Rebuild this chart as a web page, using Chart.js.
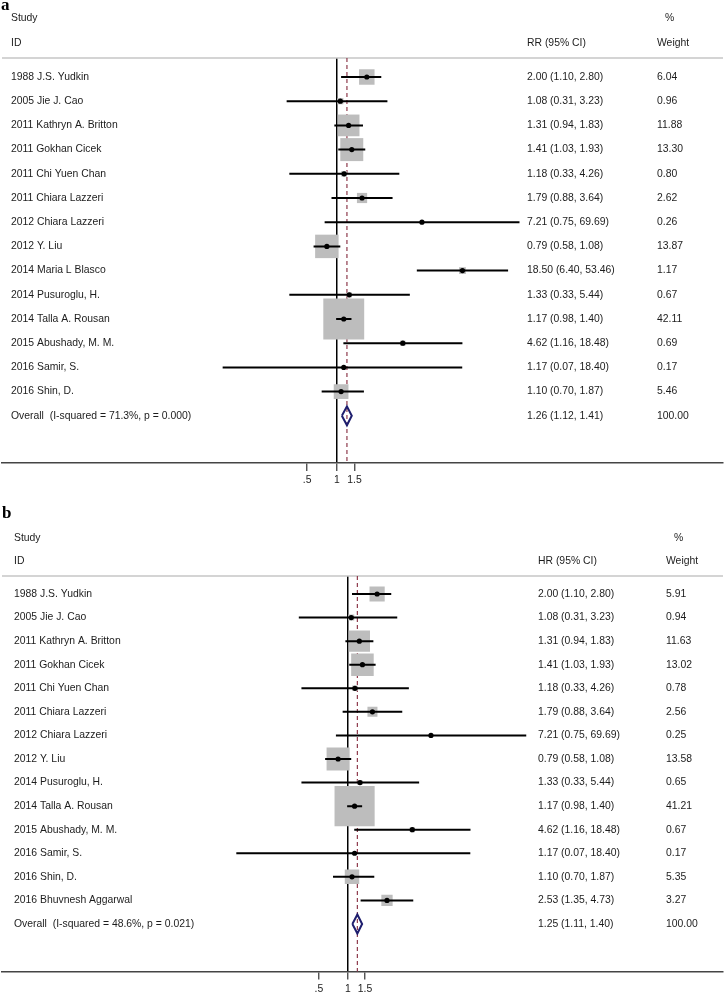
<!DOCTYPE html>
<html><head><meta charset="utf-8">
<script src="https://cdn.jsdelivr.net/npm/chart.js@4.4.1/dist/chart.umd.min.js"></script>
<style>
html,body{margin:0;padding:0;background:#fff;}
#wrap{position:relative;width:725px;height:992px;overflow:hidden;background:#fff;}
canvas{position:absolute;left:0;display:block;}
</style></head><body>
<div id="wrap">
<canvas id="ca" style="top:0px"></canvas>
<canvas id="cb" style="top:490px"></canvas>
</div>
<script>
// ---------- Panel a (RR) ----------
const studiesA = ["1988 J.S. Yudkin","2005 Jie J. Cao","2011 Kathryn A. Britton","2011 Gokhan Cicek","2011 Chi Yuen Chan","2011 Chiara Lazzeri","2012 Chiara Lazzeri","2012 Y. Liu","2014 Maria L Blasco","2014 Pusuroglu, H.","2014 Talla A. Rousan","2015 Abushady, M. M.","2016 Samir, S.","2016 Shin, D."];
const estA = [2.00,1.08,1.31,1.41,1.18,1.79,7.21,0.79,18.50,1.33,1.17,4.62,1.17,1.10];
const loA  = [1.10,0.31,0.94,1.03,0.33,0.88,0.75,0.58,6.40,0.33,0.98,1.16,0.07,0.70];
const hiA  = [2.80,3.23,1.83,1.93,4.26,3.64,69.69,1.08,53.46,5.44,1.40,18.48,18.40,1.87];
const weightA = [6.04,0.96,11.88,13.30,0.80,2.62,0.26,13.87,1.17,0.67,42.11,0.69,0.17,5.46];
const overallA = [1.26,1.12,1.41];
const overallWeightA = 100.00;
const overallLabelA = "Overall  (I-squared = 71.3%, p = 0.000)";
const effectHeaderA = "RR (95% CI)";

// ---------- Panel b (HR) ----------
const studiesB = ["1988 J.S. Yudkin","2005 Jie J. Cao","2011 Kathryn A. Britton","2011 Gokhan Cicek","2011 Chi Yuen Chan","2011 Chiara Lazzeri","2012 Chiara Lazzeri","2012 Y. Liu","2014 Pusuroglu, H.","2014 Talla A. Rousan","2015 Abushady, M. M.","2016 Samir, S.","2016 Shin, D.","2016 Bhuvnesh Aggarwal"];
const estB = [2.00,1.08,1.31,1.41,1.18,1.79,7.21,0.79,1.33,1.17,4.62,1.17,1.10,2.53];
const loB  = [1.10,0.31,0.94,1.03,0.33,0.88,0.75,0.58,0.33,0.98,1.16,0.07,0.70,1.35];
const hiB  = [2.80,3.23,1.83,1.93,4.26,3.64,69.69,1.08,5.44,1.40,18.48,18.40,1.87,4.73];
const weightB = [5.91,0.94,11.63,13.02,0.78,2.56,0.25,13.58,0.65,41.21,0.67,0.17,5.35,3.27];
const overallB = [1.25,1.11,1.40];
const overallWeightB = 100.00;
const overallLabelB = "Overall  (I-squared = 48.6%, p = 0.021)";
const effectHeaderB = "HR (95% CI)";

// axis tick labels
const tickValues = [0.5, 1, 1.5];
const tickLabels = [".5", "1", "1.5"];

Chart.defaults.font.family = '"Liberation Sans", Arial, Helvetica, sans-serif';
Chart.defaults.font.size = 10.4;
Chart.defaults.color = '#222';

const TEXT_FONT = '10.4px "Liberation Sans", Arial, Helvetica, sans-serif';
const TEXT_COLOR = '#1c1c1c';

function fmt(v){ return v.toFixed(2); }

function makeForest(cfg) {
  const canvas = document.getElementById(cfg.canvasId);
  canvas.width = 725; canvas.height = cfg.height;
  const n = cfg.studies.length;
  const L = 2, R = 723;
  const xmin = Math.exp((L - cfg.nullPx) / cfg.pxPerLn);
  const xmax = Math.exp((R - cfg.nullPx) / cfg.pxPerLn);
  const ymin = (cfg.top - cfg.row0) / cfg.rowStep;
  const ymax = (cfg.bottom - cfg.row0) / cfg.rowStep;

  const boxData = cfg.est.map((v, i) => ({x: v, y: i}));
  const dotData = cfg.est.map((v, i) => ({x: v, y: i}));
  const ciData = [];
  cfg.est.forEach((v, i) => {
    ciData.push({x: cfg.lo[i], y: i}, {x: cfg.hi[i], y: i}, {x: null, y: null});
  });
  const dh = cfg.diamondHalf / cfg.rowStep;
  const ov = cfg.overall;
  const diamond = [
    {x: ov[1], y: n}, {x: ov[0], y: n - dh}, {x: ov[2], y: n}, {x: ov[0], y: n + dh}, {x: ov[1], y: n}
  ];

  const forestPlugin = {
    id: 'forest',
    beforeDatasetsDraw(chart) {
      const c = chart.ctx, ca = chart.chartArea;
      const xs = chart.scales.x;
      c.save();
      c.strokeStyle = '#c6c6c6'; c.lineWidth = 1.5;
      c.beginPath(); c.moveTo(ca.left, ca.top); c.lineTo(ca.right, ca.top); c.stroke();
      const px = xs.getPixelForValue(ov[0]);
      c.strokeStyle = '#8e3a4c'; c.lineWidth = 1.2; c.setLineDash([4, 3]);
      c.beginPath(); c.moveTo(px, ca.top); c.lineTo(px, ca.bottom); c.stroke();
      c.restore();
    },
    afterDraw(chart) {
      const c = chart.ctx, ys = chart.scales.y, ca = chart.chartArea;
      c.save();
      c.fillStyle = TEXT_COLOR; c.font = TEXT_FONT; c.textBaseline = 'middle'; c.textAlign = 'left';
      const hy1 = ca.top + cfg.studyHdrDy, hy2 = ca.top + cfg.idHdrDy;
      c.fillText('Study', cfg.leftX, hy1);
      c.fillText('%', cfg.pctX, hy1);
      c.fillText('ID', cfg.leftX, hy2);
      c.fillText(cfg.effectHeader, cfg.ciX, hy2);
      c.fillText('Weight', cfg.wX, hy2);
      cfg.studies.forEach((s, i) => {
        const py = ys.getPixelForValue(i);
        c.fillText(s, cfg.leftX, py);
        c.fillText(fmt(cfg.est[i]) + ' (' + fmt(cfg.lo[i]) + ', ' + fmt(cfg.hi[i]) + ')', cfg.ciX, py);
        c.fillText(fmt(cfg.weight[i]), cfg.wX, py);
      });
      const oy = ys.getPixelForValue(n);
      c.fillText(cfg.overallLabel, cfg.leftX, oy);
      c.fillText(fmt(ov[0]) + ' (' + fmt(ov[1]) + ', ' + fmt(ov[2]) + ')', cfg.ciX, oy);
      c.fillText(fmt(cfg.overallWeight), cfg.wX, oy);
      c.fillStyle = '#000';
      c.font = 'bold 17px "Liberation Serif", "Times New Roman", serif';
      c.fillText(cfg.letter, cfg.letterX, ca.top + cfg.letterDy);
      c.restore();
    }
  };

  return new Chart(canvas, {
    type: 'scatter',
    data: {
      datasets: [
        { type: 'scatter', data: boxData, order: 4, pointStyle: 'rect',
          pointRadius: ctx => cfg.boxScale * Math.sqrt(cfg.weight[ctx.dataIndex]) / Math.SQRT2,
          pointHoverRadius: ctx => cfg.boxScale * Math.sqrt(cfg.weight[ctx.dataIndex]) / Math.SQRT2,
          backgroundColor: '#bdbdbd', borderWidth: 0 },
        { type: 'line', data: ciData, order: 3, showLine: true, spanGaps: false,
          borderColor: '#000', borderWidth: 2, pointRadius: 0, tension: 0, fill: false },
        { type: 'scatter', data: dotData, order: 2, pointStyle: 'circle', pointRadius: 2.6,
          backgroundColor: '#000', borderColor: '#000', borderWidth: 0 },
        { type: 'line', data: diamond, order: 1, showLine: true, borderColor: '#1e1e6e',
          borderWidth: 2, pointRadius: 0, tension: 0, fill: false, borderJoinStyle: 'miter' }
      ]
    },
    options: {
      responsive: false, animation: false, devicePixelRatio: 1,
      layout: { autoPadding: false,
                padding: { left: L, right: 725 - R, top: cfg.top, bottom: cfg.height - cfg.bottom - cfg.axisH } },
      plugins: { legend: { display: false }, tooltip: { enabled: false }, title: { display: false } },
      events: [],
      scales: {
        x: {
          type: 'logarithmic', position: 'bottom', min: xmin, max: xmax,
          afterBuildTicks: axis => { axis.ticks = tickValues.map(v => ({ value: v })); },
          afterFit: scale => { scale.height = cfg.axisH; },
          ticks: { autoSkip: false, maxRotation: 0, padding: 3, color: '#222',
                   callback: (v) => { const k = tickValues.indexOf(v); return k >= 0 ? tickLabels[k] : ''; } },
          grid: { display: true, drawOnChartArea: true, drawTicks: true, tickLength: 8,
                  color: ctx => (ctx.tick && ctx.tick.value === 1) ? '#000' : 'rgba(0,0,0,0)',
                  lineWidth: 1.5, tickColor: '#444', tickWidth: 1.3 },
          border: { display: true, color: '#444', width: 1.5 }
        },
        y: { type: 'linear', display: false, reverse: true, min: ymin, max: ymax }
      }
    },
    plugins: [forestPlugin]
  });
}

makeForest({
  canvasId: 'ca', height: 490, top: 58, bottom: 463, axisH: 22,
  row0: 77, rowStep: 24.2, nullPx: 337, pxPerLn: 43, boxScale: 6.3, diamondHalf: 9.5,
  studies: studiesA, est: estA, lo: loA, hi: hiA, weight: weightA,
  overall: overallA, overallWeight: overallWeightA, overallLabel: overallLabelA,
  effectHeader: effectHeaderA,
  leftX: 11, ciX: 527, wX: 657, pctX: 665, studyHdrDy: -40, idHdrDy: -15,
  letter: 'a', letterX: 1, letterDy: -52
});

makeForest({
  canvasId: 'cb', height: 502, top: 86, bottom: 481.5, axisH: 20.5,
  row0: 104, rowStep: 23.57, nullPx: 348, pxPerLn: 42, boxScale: 6.25, diamondHalf: 9.5,
  studies: studiesB, est: estB, lo: loB, hi: hiB, weight: weightB,
  overall: overallB, overallWeight: overallWeightB, overallLabel: overallLabelB,
  effectHeader: effectHeaderB,
  leftX: 14, ciX: 538, wX: 666, pctX: 674, studyHdrDy: -38, idHdrDy: -15,
  letter: 'b', letterX: 2, letterDy: -62
});
</script>
</body></html>
